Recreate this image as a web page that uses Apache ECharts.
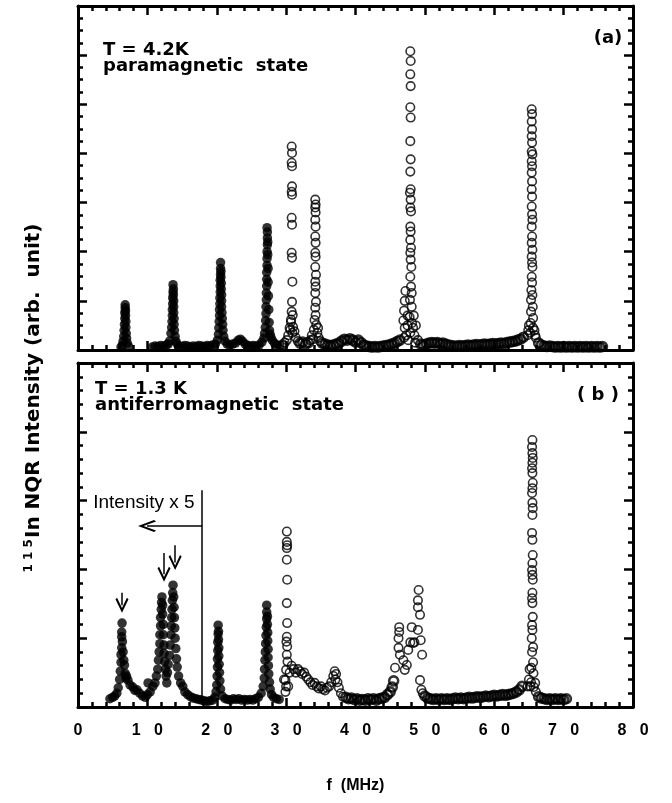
<!DOCTYPE html>
<html>
<head>
<meta charset="utf-8">
<title>115In NQR spectra</title>
<script src="https://cdn.jsdelivr.net/npm/echarts@6/dist/echarts.min.js"></script>
<style>
  html, body { margin: 0; padding: 0; background: #fff; }
  #chart { width: 672px; height: 803px; }
</style>
</head>
<body>
<div id="chart"></div>
<script>
// frequency axis (MHz)
const freqMin = 0;
const freqMax = 80;
const freqStep = 10;

// (a) T = 4.2 K, paramagnetic state  -- [f (MHz), intensity]
const aFilled = [
  [6.2,0.06],[6.4,0.1],[6.5,0.18],[6.6,0.28],[6.65,0.4],[6.7,0.52],[6.75,0.64],[6.75,0.76],[6.8,0.86],[6.8,0.92],
  [6.85,0.8],[6.85,0.7],[6.9,0.58],[6.9,0.46],[6.95,0.34],[7.0,0.24],[7.1,0.14],[7.3,0.07],
  [10.7,0.06],[11.1,0.08],[11.5,0.07],[11.9,0.09],[12.3,0.08],[12.7,0.1],[13.0,0.12],[13.2,0.18],
  [13.4,0.34],[13.5,0.46],[13.55,0.58],[13.6,0.7],[13.6,0.82],[13.65,0.94],[13.65,1.06],[13.7,1.18],[13.7,1.33],
  [13.75,1.24],[13.75,1.12],[13.8,1.0],[13.8,0.88],[13.8,0.76],[13.85,0.64],[13.85,0.52],[13.9,0.4],[14.0,0.28],
  [14.1,0.18],[14.3,0.12],[14.6,0.08],[15.0,0.07],[15.4,0.09],[15.8,0.08],[16.2,0.06],[16.6,0.08],[17.0,0.07],
  [17.4,0.09],[17.8,0.08],[18.2,0.07],[18.6,0.09],[19.0,0.08],[19.4,0.1],[19.8,0.12],[20.1,0.2],
  [20.25,0.32],[20.3,0.45],[20.35,0.58],[20.4,0.7],[20.4,0.82],[20.45,0.94],[20.45,1.06],[20.5,1.18],[20.5,1.3],
  [20.5,1.42],[20.55,1.54],[20.55,1.66],[20.55,1.78],[20.6,1.6],[20.6,1.48],[20.65,1.36],[20.65,1.24],[20.7,1.12],
  [20.7,1.0],[20.7,0.88],[20.75,0.76],[20.8,0.64],[20.85,0.52],[20.9,0.4],[21.0,0.28],[21.2,0.18],[21.5,0.12],
  [21.9,0.1],[22.3,0.12],[22.7,0.14],[23.1,0.2],[23.4,0.22],[23.7,0.18],[24.1,0.12],[24.5,0.09],[24.9,0.08],
  [25.3,0.09],[25.7,0.08],[26.1,0.1],[26.5,0.16],[26.8,0.24],
  [26.9,0.34],[27.0,0.46],[27.05,0.6],[27.1,0.74],[27.1,0.88],[27.15,1.02],[27.15,1.16],[27.2,1.3],[27.2,1.44],
  [27.2,1.58],[27.25,1.72],[27.25,1.86],[27.25,2.0],[27.3,2.14],[27.3,2.28],[27.3,2.4],[27.25,2.49],[27.35,2.2],
  [27.35,1.94],[27.4,1.66],[27.4,1.38],[27.45,1.1],[27.5,0.82],[27.55,0.56],[27.6,0.4],[27.7,0.32],[27.8,0.26],
  [28.0,0.2],[28.3,0.14],[28.7,0.1],[29.1,0.08]
];
const aOpen = [
  [30.8,4.14],[30.85,4.01],[30.8,3.81],[30.85,3.74],[30.85,3.33],[30.8,3.22],[30.85,3.16],[30.8,2.69],[30.85,2.55],
  [30.8,1.98],[30.85,1.88],[30.9,1.39],[30.85,0.98],[30.8,0.78],[30.95,0.71],[30.7,0.57],[31.0,0.47],[30.6,0.41],
  [30.9,0.35],[30.3,0.3],[30.5,0.45],[31.2,0.38],[31.4,0.25],[30.1,0.2],[29.8,0.15],[31.7,0.18],[30.7,0.62],
  [34.2,3.06],[34.25,2.96],[34.2,2.9],[34.25,2.8],[34.2,2.65],[34.25,2.51],[34.2,2.31],[34.25,2.18],[34.2,1.98],
  [34.25,1.9],[34.2,1.69],[34.3,1.53],[34.2,1.39],[34.25,1.29],[34.2,1.16],[34.3,0.98],[34.2,0.86],[34.25,0.71],
  [34.1,0.61],[34.35,0.51],[34.0,0.41],[33.7,0.3],[33.9,0.22],[34.5,0.35],[34.7,0.25],[34.6,0.45],[33.5,0.2],[34.9,0.18],
  [47.9,6.08],[47.95,5.88],[47.9,5.61],[47.95,5.37],[47.9,4.94],[47.95,4.73],[47.9,4.25],[47.95,3.88],[47.9,3.63],
  [47.95,3.27],[47.85,3.2],[47.95,3.06],[47.9,2.9],[48.0,2.82],[47.9,2.51],[47.95,2.41],[47.9,2.24],[48.0,2.08],
  [47.9,1.98],[47.95,1.84],[48.05,1.69],[47.9,1.49],[48.0,1.29],[48.1,1.16],[47.85,1.02],[48.1,0.88],[47.8,0.67],
  [48.15,0.55],[47.9,0.35],
  [46.9,0.6],[47.0,0.8],[47.1,1.0],[47.2,1.2],[47.1,0.45],[47.3,0.3],[47.5,0.7],[47.5,0.5],[48.3,0.45],[48.4,0.7],
  [48.5,0.3],[48.7,0.5],[49.0,0.2],[48.6,0.15],[47.6,0.2],[47.0,0.25],
  [65.4,4.9],[65.45,4.8],[65.4,4.65],[65.45,4.49],[65.4,4.35],[65.45,4.22],[65.4,4.04],[65.5,3.98],[65.4,3.84],
  [65.45,3.74],[65.4,3.61],[65.45,3.43],[65.4,3.27],[65.45,3.12],[65.4,2.92],[65.45,2.76],[65.5,2.65],[65.4,2.51],
  [65.45,2.31],[65.4,2.18],[65.5,2.04],[65.4,1.9],[65.45,1.78],[65.5,1.69],[65.4,1.49],[65.45,1.37],[65.35,1.22],
  [65.5,1.12],[65.3,1.02],[65.55,0.88],[65.3,0.78],[65.6,0.65],[65.25,0.55],[65.6,0.45],[65.2,0.35],
  [64.8,0.3],[65.0,0.5],[65.8,0.4],[66.0,0.25],[64.9,0.4],[65.9,0.3]
];
const aOpenBase = [
  [29.5,0.1],[32.0,0.14],[32.4,0.16],[32.8,0.12],[33.2,0.15],
  [35.2,0.14],[35.6,0.12],[36.0,0.1],[36.4,0.09],[36.8,0.1],[37.2,0.12],[37.6,0.14],[38.0,0.18],[38.4,0.22],
  [38.8,0.2],[39.2,0.23],[39.6,0.2],[40.0,0.16],[40.4,0.2],[40.8,0.15],[41.2,0.1],[41.6,0.08],[42.0,0.07],
  [42.4,0.06],[42.8,0.07],[43.2,0.06],[43.6,0.07],[44.0,0.08],[44.4,0.09],[44.8,0.1],[45.2,0.12],[45.6,0.14],
  [46.0,0.17],[46.4,0.2],
  [49.4,0.12],[49.8,0.1],[50.2,0.12],[50.6,0.14],[51.0,0.15],[51.4,0.14],[51.8,0.15],[52.2,0.13],[52.6,0.14],
  [53.0,0.12],[53.4,0.1],[53.8,0.09],[54.2,0.08],[54.6,0.08],[55.0,0.09],[55.4,0.08],[55.8,0.09],[56.2,0.1],
  [56.6,0.09],[57.0,0.1],[57.4,0.11],[57.8,0.1],[58.2,0.11],[58.6,0.12],[59.0,0.11],[59.4,0.12],[59.8,0.13],
  [60.2,0.12],[60.6,0.13],[61.0,0.14],[61.4,0.13],[61.8,0.15],[62.2,0.16],[62.6,0.17],[63.0,0.18],[63.4,0.2],
  [63.8,0.22],[64.2,0.26],
  [66.4,0.14],[66.8,0.1],[67.2,0.08],[67.6,0.07],[68.0,0.08],[68.4,0.07],[68.8,0.06],[69.2,0.07],[69.6,0.06],
  [70.0,0.07],[70.4,0.06],[70.8,0.07],[71.2,0.06],[71.6,0.07],[72.0,0.06],[72.4,0.07],[72.8,0.06],[73.2,0.07],
  [73.6,0.06],[74.0,0.07],[74.4,0.06],[74.8,0.07],[75.2,0.06],[75.6,0.07]
];

// (b) T = 1.3 K, antiferromagnetic state (below ~18 MHz intensity x 5)
const bFilled = [
  [4.6,0.12],[5.0,0.14],[5.3,0.16],[5.6,0.2],[5.8,0.28],
  [6.0,0.4],[6.1,0.52],[6.2,0.65],[6.2,0.76],[6.3,0.86],[6.3,1.02],[6.3,1.09],[6.35,1.22],[6.4,0.95],[6.5,0.8],
  [6.6,0.68],[6.7,0.61],[6.8,0.49],[6.9,0.42],[7.0,0.45],[7.2,0.39],[7.5,0.32],[7.9,0.29],[8.2,0.24],[8.5,0.25],
  [8.9,0.2],[9.3,0.16],[9.7,0.14],[10.0,0.18],[10.1,0.35],[10.4,0.22],[10.8,0.3],[11.1,0.35],[11.3,0.45],
  [11.5,0.55],[11.6,0.68],[11.7,0.8],[11.8,0.92],[11.8,1.05],[11.9,1.18],[11.9,1.3],[12.0,1.42],[12.05,1.52],
  [12.1,1.6],[12.2,1.48],[12.2,1.35],[12.3,1.2],[12.3,1.05],[12.4,0.9],[12.4,0.78],[12.5,0.66],[12.6,0.55],
  [12.7,0.45],[12.9,0.5],[13.0,0.62],[12.8,0.35],
  [13.2,0.75],[13.3,0.9],[13.4,1.05],[13.45,1.18],[13.5,1.3],[13.55,1.42],[13.6,1.55],[13.65,1.66],[13.7,1.77],
  [13.8,1.6],[13.85,1.45],[13.9,1.3],[13.95,1.15],[14.0,1.0],[14.1,0.85],[14.2,0.7],[14.3,0.58],[14.5,0.45],
  [14.8,0.35],[15.1,0.3],[15.4,0.22],[15.8,0.18],[16.2,0.15],[16.6,0.13],[17.0,0.12],[17.4,0.11],[17.8,0.1],
  [18.2,0.09],[18.6,0.08],[19.0,0.09],[19.4,0.1],[19.7,0.14],[19.9,0.22],
  [20.0,0.32],[20.05,0.45],[20.1,0.58],[20.1,0.7],[20.15,0.82],[20.15,0.94],[20.2,1.06],[20.2,1.19],[20.25,1.1],
  [20.25,0.98],[20.3,0.86],[20.3,0.74],[20.35,0.62],[20.4,0.5],[20.45,0.38],[20.55,0.26],[20.8,0.16],[21.2,0.12],
  [21.6,0.11],[22.0,0.1],[22.4,0.12],[22.8,0.11],[23.2,0.12],[23.6,0.1],[24.0,0.11],[24.4,0.1],[24.8,0.11],
  [25.2,0.1],[25.6,0.12],[26.0,0.14],[26.4,0.2],[26.7,0.3],
  [26.85,0.42],[26.9,0.55],[26.95,0.68],[27.0,0.8],[27.05,0.92],[27.1,1.04],[27.15,1.16],[27.2,1.28],[27.2,1.38],
  [27.2,1.48],[27.3,1.32],[27.3,1.2],[27.35,1.08],[27.35,0.96],[27.4,0.84],[27.4,0.72],[27.45,0.6],[27.5,0.48],
  [27.6,0.36],[27.7,0.26],[27.9,0.18],[28.2,0.14],[28.6,0.12],[29.0,0.11]
];
const bOpen = [
  [30.1,2.55],[30.1,2.4],[30.15,2.35],[30.1,2.31],[30.1,2.14],[30.15,1.85],[30.1,1.51],[30.15,1.22],[30.1,1.02],
  [30.05,0.95],[30.15,0.88],[30.1,0.76],[30.2,0.66],[30.0,0.54],[29.9,0.39],[30.0,0.3],[29.7,0.4],[29.9,0.22],[30.3,0.3],
  [30.5,0.5],[30.8,0.6],[31.1,0.55],[31.4,0.5],[31.7,0.55],[32.0,0.52],[32.3,0.48],[32.6,0.5],[32.9,0.44],
  [33.2,0.4],[33.5,0.36],[33.8,0.32],[34.1,0.35],[34.4,0.3],[34.7,0.27],[35.0,0.3],[35.3,0.26],[35.6,0.24],
  [35.9,0.28],[36.2,0.3],[36.5,0.36],[36.8,0.45],[37.0,0.52],[37.2,0.48],[37.1,0.4],[37.4,0.36],[37.6,0.28],
  [37.9,0.2],[38.2,0.15],
  [45.7,0.57],[46.4,0.76],[46.2,0.86],[46.3,1.16],[46.3,1.09],[46.2,1.0],[46.9,0.68],[47.4,0.61],[47.1,0.54],
  [47.6,0.83],[47.9,0.94],[48.1,1.16],[48.3,0.93],[48.5,0.94],[49.0,1.12],[49.3,1.34],[49.0,1.45],[49.0,1.55],
  [49.1,1.7],[49.4,0.97],[49.6,0.76],[49.3,0.39],[49.5,0.25],[49.7,0.2],
  [65.5,3.88],[65.45,3.78],[65.5,3.69],[65.55,3.62],[65.5,3.55],[65.45,3.47],[65.5,3.4],[65.55,3.26],[65.5,3.18],
  [65.45,3.11],[65.5,2.97],[65.55,2.89],[65.5,2.79],[65.45,2.53],[65.5,2.43],[65.55,2.21],[65.5,2.09],[65.45,1.99],
  [65.5,1.92],[65.55,1.85],[65.5,1.66],[65.45,1.58],[65.5,1.51],[65.55,1.31],[65.45,1.19],[65.5,1.12],[65.4,1.0],
  [65.6,0.87],[65.45,0.8],[65.6,0.65],[65.35,0.57],[65.65,0.49],[65.3,0.36],[65.7,0.29],
  [65.0,0.4],[65.1,0.55],[65.2,0.3],[65.9,0.35],[66.0,0.22],[64.8,0.3]
];
const bOpenBase = [
  [38.6,0.14],[39.0,0.12],[39.4,0.13],[39.8,0.11],[40.2,0.12],[40.6,0.1],[41.0,0.11],[41.4,0.1],[41.8,0.12],
  [42.2,0.11],[42.6,0.12],[43.0,0.1],[43.4,0.12],[43.8,0.13],[44.2,0.14],[44.6,0.18],[45.0,0.22],[45.3,0.29],[45.5,0.38],
  [50.0,0.16],[50.4,0.13],[50.8,0.12],[51.2,0.11],[51.6,0.12],[52.0,0.11],[52.4,0.12],[52.8,0.11],[53.2,0.12],
  [53.6,0.11],[54.0,0.12],[54.4,0.13],[54.8,0.12],[55.2,0.13],[55.6,0.12],[56.0,0.13],[56.4,0.14],[56.8,0.13],
  [57.2,0.14],[57.6,0.15],[58.0,0.14],[58.4,0.15],[58.8,0.16],[59.2,0.15],[59.6,0.16],[60.0,0.17],[60.4,0.16],
  [60.8,0.17],[61.2,0.18],[61.6,0.17],[62.0,0.18],[62.4,0.19],[62.8,0.2],[63.2,0.22],[63.6,0.25],[64.0,0.3],
  [66.4,0.15],[66.8,0.13],[67.2,0.12],[67.6,0.11],[68.0,0.12],[68.4,0.11],[68.8,0.12],[69.2,0.11],[69.6,0.12],
  [70.0,0.11],[70.4,0.12]
];

// annotation anchors in panel (b), in data units
const x5Line = [[17.9, 3.15], [17.9, 0.1]];
const x5Arrow = [[17.9, 2.63], [9.95, 2.63]];
const x5Text = [9.5, 2.97];
const peakArrows = [[6.34, 1.66, 1.48], [12.4, 2.24, 1.93], [14.0, 2.35, 2.1]];

const BOLD = 'DejaVu Sans';
const chevron = 'path://M5,0 L10,8.4 L8.8,9.4 L5,2.9 L1.2,9.4 L0,8.4 Z';

function frameX(grid, pos, withLabels) {
  return {
    type: 'value', gridIndex: grid, position: pos,
    min: freqMin, max: freqMax, interval: freqStep,
    axisLine: { onZero: false, lineStyle: { color: '#000', width: 3 } },
    axisTick: { inside: true, length: 9, lineStyle: { color: '#000', width: 2.5 } },
    minorTick: { show: true, splitNumber: 5, length: 5, lineStyle: { color: '#000', width: 2.5 } },
    splitLine: { show: false },
    axisLabel: withLabels ? {
      margin: 16, color: '#000', fontSize: 16, fontWeight: 'bold', fontFamily: 'Liberation Sans',
      formatter: v => String(v).split('').join('   ')
    } : { show: false },
    name: withLabels ? 'f  (MHz)' : '',
    nameLocation: 'middle', nameGap: 71,
    nameTextStyle: { color: '#000', fontSize: 16, fontWeight: 'bold', fontFamily: 'Liberation Sans' }
  };
}

function frameY(grid, pos, max, minorSplit) {
  return {
    type: 'value', gridIndex: grid, position: pos,
    min: 0, max: max, interval: 1,
    axisLine: { onZero: false, lineStyle: { color: '#000', width: 3 } },
    axisTick: { inside: true, length: 9, lineStyle: { color: '#000', width: 2.5 } },
    minorTick: { show: true, splitNumber: minorSplit, length: 5, lineStyle: { color: '#000', width: 2.5 } },
    splitLine: { show: false },
    axisLabel: { show: false }
  };
}

const filledStyle = { color: '#000' };
const openStyle = { color: 'rgba(0,0,0,0)', borderColor: '#000', borderWidth: 1.6 };
const baseStyle = { color: 'rgba(0,0,0,0)', borderColor: '#000', borderWidth: 2.6 };

function dots(xi, yi, data, size, style) {
  return { type: 'scatter', xAxisIndex: xi, yAxisIndex: yi, data: data, symbol: 'circle', symbolSize: size, itemStyle: style };
}

function panelText(x, y, text, extra) {
  return {
    type: 'text', x: x, y: y, silent: true,
    style: Object.assign({
      text: text, fill: '#000', font: 'bold 18px "' + BOLD + '"',
      align: 'left', verticalAlign: 'middle'
    }, extra || {})
  };
}

const chart = echarts.init(document.getElementById('chart'), null, { renderer: 'canvas' });

const bFilledSeries = dots(2, 2, bFilled, 9.5, filledStyle);
bFilledSeries.markLine = {
  silent: true, animation: false,
  lineStyle: { color: '#000', width: 1.5, type: 'solid' },
  label: { show: false },
  emphasis: { disabled: true },
  data: [
    [{ coord: x5Line[0], symbol: 'none' }, { coord: x5Line[1], symbol: 'none' }],
    [{ coord: x5Arrow[0], symbol: 'none' }, { coord: x5Arrow[1], symbol: chevron, symbolSize: [12, 18] }]
  ].concat(peakArrows.map(a => [
    { coord: [a[0], a[1]], symbol: 'none' },
    { coord: [a[0], a[2]], symbol: chevron, symbolSize: [13, 15] }
  ]))
};
bFilledSeries.markPoint = {
  silent: true, animation: false,
  symbol: 'circle', symbolSize: 1,
  itemStyle: { color: 'rgba(0,0,0,0)' },
  label: {
    show: true, position: 'inside', color: '#000',
    fontSize: 19, fontFamily: 'Liberation Sans', fontWeight: 'normal',
    formatter: 'Intensity x 5'
  },
  data: [{ coord: x5Text }]
};

chart.setOption({
  animation: false,
  backgroundColor: '#fff',
  grid: [
    { left: 78, top: 6, width: 555, height: 344 },
    { left: 78, top: 363, width: 555, height: 344 }
  ],
  xAxis: [
    frameX(0, 'bottom', false), frameX(0, 'top', false),
    frameX(1, 'bottom', true), frameX(1, 'top', false)
  ],
  yAxis: [
    frameY(0, 'left', 7, 4), frameY(0, 'right', 7, 4),
    frameY(1, 'left', 5, 5), frameY(1, 'right', 5, 5)
  ],
  series: [
    dots(0, 0, aOpenBase, 9, baseStyle),
    dots(0, 0, aOpen, 8.5, openStyle),
    dots(0, 0, aFilled, 9.5, filledStyle),
    dots(2, 2, bOpenBase, 9, baseStyle),
    dots(2, 2, bOpen, 8.5, openStyle),
    bFilledSeries
  ],
  graphic: [
    panelText(103, 50, 'T = 4.2K'),
    panelText(103, 66, 'paramagnetic  state'),
    panelText(608, 38, '(a)', { align: 'center' }),
    panelText(95, 389, 'T = 1.3 K'),
    panelText(95, 405, 'antiferromagnetic  state'),
    panelText(598, 395, '( b )', { align: 'center' }),
    {
      type: 'text', x: 34, y: 398, rotation: Math.PI / 2, silent: true,
      style: {
        text: '{sup|1 1 5}{main|In NQR Intensity (arb.  unit)}',
        align: 'center', verticalAlign: 'middle', fill: '#000',
        rich: {
          sup: { fontSize: 12, fontWeight: 'bold', fontFamily: BOLD, fill: '#000', padding: [0, 1, 11, 0] },
          main: { fontSize: 20, fontWeight: 'bold', fontFamily: BOLD, fill: '#000' }
        }
      }
    }
  ]
});

window.addEventListener('resize', () => chart.resize());
</script>
</body>
</html>
